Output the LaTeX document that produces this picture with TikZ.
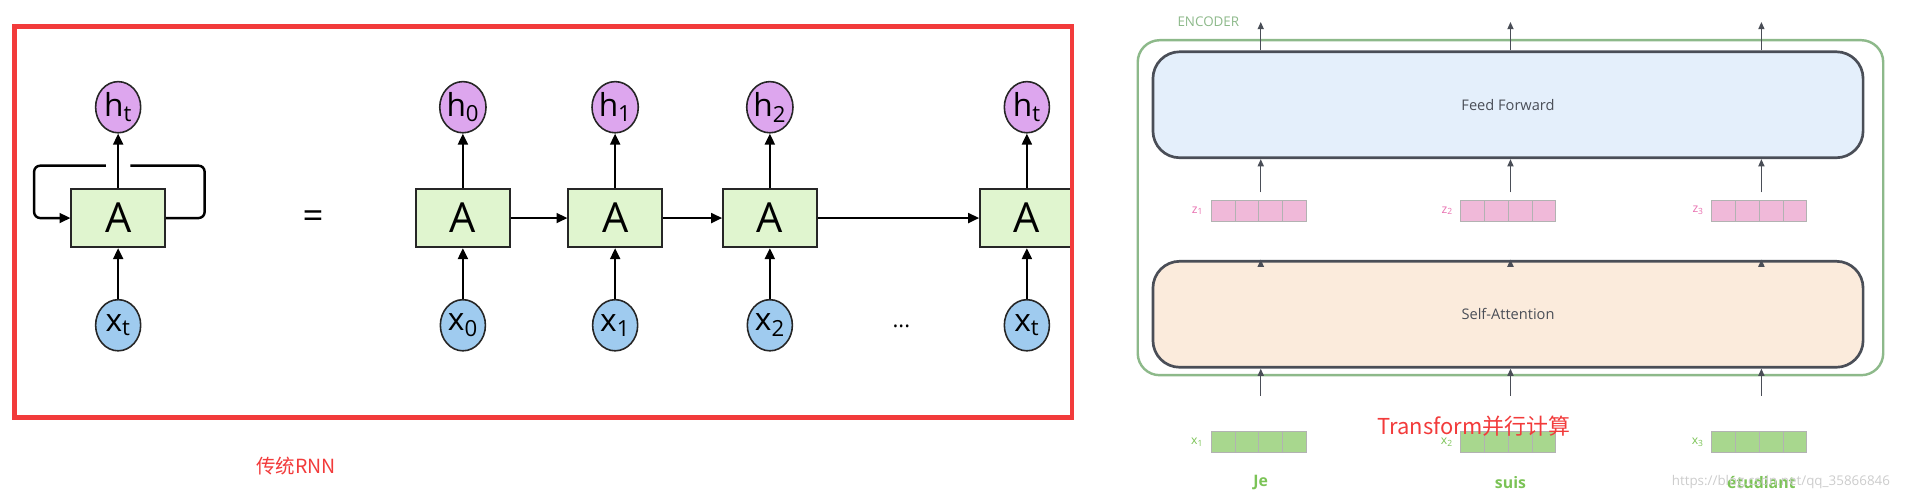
\documentclass[tikz,border=0pt]{standalone}
\usepackage{fontspec}
\setmainfont{Open Sans}
\newfontfamily\cjk{Noto Sans CJK SC}
\usetikzlibrary{arrows.meta,positioning,shapes.geometric}
\definecolor{cellgreen}{HTML}{E0F5CF}
\definecolor{hpurple}{HTML}{DDA6EE}
\definecolor{xblue}{HTML}{9FCBEF}
\definecolor{redline}{HTML}{F23B3B}
\definecolor{encgreen}{HTML}{8DB98A}
\definecolor{ffblue}{HTML}{E4EFFB}
\definecolor{sapeach}{HTML}{FBEBDC}
\definecolor{zpink}{HTML}{F0B9D9}
\definecolor{zlab}{HTML}{E86FAF}
\definecolor{xgreen}{HTML}{A8D78E}
\definecolor{xlab}{HTML}{7BC356}
\definecolor{darkgray}{HTML}{4A4E57}
\begin{document}
\begin{tikzpicture}[x=1pt,y=-1pt,>={Triangle[length=9pt,width=8pt]},line width=2pt]
  \tikzstyle{cell}=[draw=black!85,line width=1.3pt,fill=cellgreen,minimum width=77pt,minimum height=48pt,inner sep=0pt,font=\fontsize{34}{34}\selectfont]
  \tikzstyle{hid}=[draw=black!85,line width=1.3pt,ellipse,fill=hpurple,minimum width=37pt,minimum height=42pt,inner sep=0pt,font=\fontsize{26}{26}\selectfont]
  \tikzstyle{inp}=[hid,fill=xblue]
  \tikzstyle{layer}=[draw=darkgray,line width=2.2pt,rounded corners=22pt,minimum width=583pt,minimum height=87pt,font=\fontsize{12}{12}\selectfont,text=darkgray]
  \tikzstyle{up}=[->,>={Triangle[length=6pt,width=5pt]},line width=1.2pt,darkgray]
  \tikzstyle{vec}=[draw=black!30,line width=0.6pt,minimum width=19.5pt,minimum height=17pt,inner sep=0pt]
  \useasboundingbox (0,0) rectangle (1568,410);

  % rolled RNN
  \node[cell] (A)  at (97,179) {A};
  \node[hid]  (h)  at (97,88)  {h\textsubscript{t}};
  \node[inp]  (x)  at (97,267) {x\textsubscript{t}};
  \draw[->] (x) -- (A);
  \draw[->] (A) -- (h);
  \coordinate (lr) at (168,136);
  \coordinate (ll) at (28,136);
  \draw[rounded corners=5pt] (A.east) -| (lr) -- (107,136);
  \draw[->,rounded corners=5pt] (87,136) -- (ll) |- (A.west);
  \node[font=\fontsize{30}{30}\selectfont] (eq) at (257,180) {=};

  % unrolled RNN
  \foreach \i/\px in {0/380,1/505,2/632,t/843}{
    \node[cell] (A\i) at (\px,179) {A};
    \node[hid]  (h\i) at (\px,88)  {h\textsubscript{\i}};
    \node[inp]  (x\i) at (\px,267) {x\textsubscript{\i}};
    \draw[->] (x\i) -- (A\i);
    \draw[->] (A\i) -- (h\i);
  }
  \draw[->] (A0) -- (A1);
  \draw[->] (A1) -- (A2);
  \draw[->] (A2) -- (At);
  \node[font=\fontsize{18}{18}\selectfont] (dots) at (740,268) {...};
  \fill[white] (881.5,140) rectangle (905,215);
  \draw[redline,line width=4pt] (12,22) rectangle (880,343);
  \node[text=redline,font=\cjk\fontsize{16}{16}\selectfont] (rnn) at (243,383) {传统RNN};

  % encoder
  \draw[encgreen,line width=2pt,rounded corners=18pt] (934,33) rectangle (1546,308);
  \node[text=encgreen,font=\fontsize{11}{11}\selectfont] (enc) at (992,18) {ENCODER};
  \node[layer,fill=ffblue]  (ff) at (1238,86)  {Feed Forward};
  \node[layer,fill=sapeach] (sa) at (1238,258) {Self-Attention};
  \foreach \k/\px/\w in {1/1035/Je,2/1240/suis,3/1446/étudiant}{
    \foreach \c in {0,1,2,3}{
      \node[vec,fill=zpink]  (z\k\c) at (\px-31+\c*19.5,173) {};
      \node[vec,fill=xgreen] (v\k\c) at (\px-31+\c*19.5,363) {};
    }
    \node[text=zlab,font=\fontsize{10}{10}\selectfont,left=2pt of z\k0] (zl\k) {z\textsubscript{\k}};
    \node[text=xlab,font=\fontsize{10}{10}\selectfont,left=2pt of v\k0] (xl\k) {x\textsubscript{\k}};
    \node[text=xlab,font=\bfseries\fontsize{13}{13}\selectfont] (w\k) at (\px,396) {\w};
    \coordinate (top\k) at (\px,18);
    \coordinate (mid\k) at (\px,158);
    \coordinate (low\k) at (\px,213);
    \coordinate (bot\k) at (\px,325);
    \draw[up] (top\k |- ff.north) -- (top\k);
    \draw[up] (mid\k) -- (mid\k |- ff.south);
    \draw[up] (low\k |- sa.north) -- (low\k);
    \draw[up] (bot\k) -- (bot\k |- sa.south);
  }
  \node[text=redline,font=\cjk\fontsize{18}{18}\selectfont] (tr) at (1210,350) {Transform并行计算};
  \node[text=black!20,font=\fontsize{11}{11}\selectfont] (wm) at (1462,396) {https://blog.csdn.net/qq\_35866846};
\end{tikzpicture}
\end{document}
